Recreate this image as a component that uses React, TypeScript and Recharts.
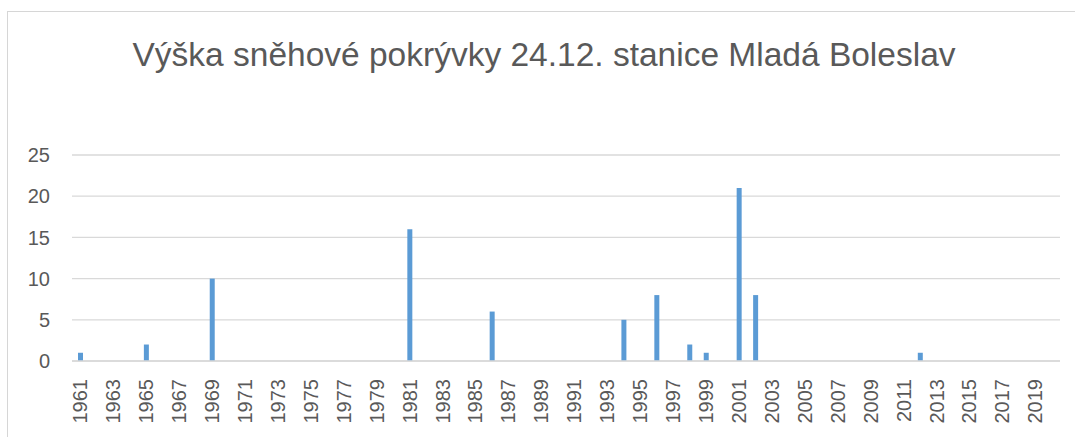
import React from "react";
import { BarChart, Bar, XAxis, YAxis, CartesianGrid } from "recharts";

const years: string[] = [
  "1961","1962","1963","1964","1965","1966","1967","1968","1969","1970",
  "1971","1972","1973","1974","1975","1976","1977","1978","1979","1980",
  "1981","1982","1983","1984","1985","1986","1987","1988","1989","1990",
  "1991","1992","1993","1994","1995","1996","1997","1998","1999","2000",
  "2001","2002","2003","2004","2005","2006","2007","2008","2009","2010",
  "2011","2012","2013","2014","2015","2016","2017","2018","2019","2020",
];

const snowDepth: number[] = [
  1, 0, 0, 0, 2, 0, 0, 0, 10, 0,
  0, 0, 0, 0, 0, 0, 0, 0, 0, 0,
  16, 0, 0, 0, 0, 6, 0, 0, 0, 0,
  0, 0, 0, 5, 0, 8, 0, 2, 1, 0,
  21, 8, 0, 0, 0, 0, 0, 0, 0, 0,
  0, 1, 0, 0, 0, 0, 0, 0, 0, 0,
];

const yTicks: number[] = [0, 5, 10, 15, 20, 25];

const title = "Výška sněhové pokrývky 24.12. stanice Mladá Boleslav";

const data = years.map((y, i) => ({ year: y, value: snowDepth[i] }));

const FONT = "'Liberation Sans', Arial, sans-serif";
const TEXT = "#595959";
const GRID = "#D9D9D9";

const XTick = (props: any) => {
  const { x, y, payload } = props;
  return (
    <text
      x={x}
      y={y}
      transform={`rotate(-90, ${x}, ${y})`}
      textAnchor="end"
      dy="0.35em"
      fill={TEXT}
      fontSize={20}
      fontFamily={FONT}
    >
      {payload.value}
    </text>
  );
};

export default function App() {
  return (
    <div style={{ position: "fixed", left: 0, top: 0, width: 1075, height: 437, background: "#fff", overflow: "hidden" }}>
      <div
        style={{
          position: "absolute",
          left: 7,
          top: 11,
          width: 1200,
          height: 600,
          border: "1px solid #D6D6D6",
          boxSizing: "border-box",
        }}
      />
      <div
        style={{
          position: "absolute",
          left: 0,
          top: 39,
          width: 1088,
          textAlign: "center",
          fontFamily: FONT,
          fontSize: 33.5,
          lineHeight: "32px",
          color: TEXT,
          whiteSpace: "nowrap",
        }}
      >
        {title}
      </div>
      <div style={{ position: "absolute", left: 0, top: 0 }}>
        <BarChart
          width={1075}
          height={437}
          data={data}
          margin={{ top: 155, right: 15, bottom: 0, left: 0 }}
          barSize={5}
        >
          <CartesianGrid vertical={false} stroke={GRID} strokeWidth={1.3} />
          <XAxis
            dataKey="year"
            interval={1}
            tickLine={false}
            axisLine={{ stroke: GRID, strokeWidth: 1.3 }}
            tickMargin={12}
            tick={<XTick />}
            height={76}
          />
          <YAxis
            domain={[0, 25]}
            ticks={yTicks}
            width={72}
            tickLine={false}
            axisLine={false}
            tickMargin={16}
            tick={{ fill: TEXT, fontSize: 20, fontFamily: FONT }}
            interval={0}
          />
          <Bar dataKey="value" fill="#5B9BD5" isAnimationActive={false} />
        </BarChart>
      </div>
    </div>
  );
}
